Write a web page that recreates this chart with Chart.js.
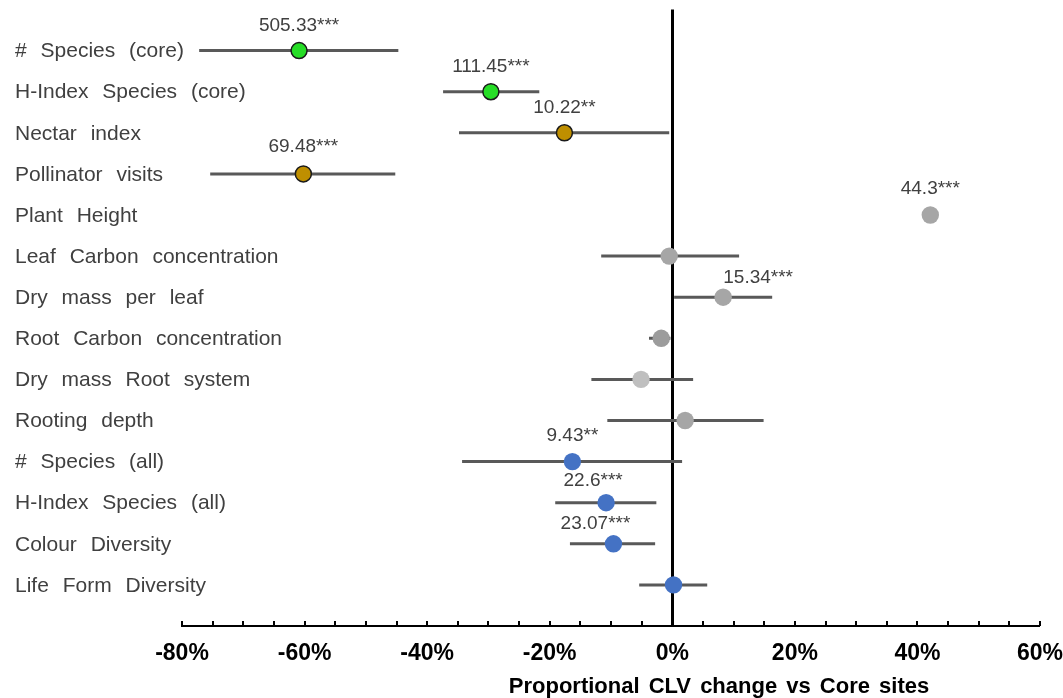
<!DOCTYPE html>
<html>
<head>
<meta charset="utf-8">
<script src="https://cdn.jsdelivr.net/npm/chart.js@4.4.1/dist/chart.umd.min.js"></script>
<style>
  html, body { margin: 0; padding: 0; background: #ffffff; }
  #wrap { width: 1063px; height: 698px; position: relative; }
</style>
</head>
<body>
<div id="wrap"><canvas id="chart" width="1063" height="698"></canvas></div>
<script>
// ---------------- DATA ----------------
const categories = [
  '# Species (core)',
  'H-Index Species (core)',
  'Nectar index',
  'Pollinator visits',
  'Plant Height',
  'Leaf Carbon concentration',
  'Dry mass per leaf',
  'Root Carbon concentration',
  'Dry mass Root system',
  'Rooting depth',
  '# Species (all)',
  'H-Index Species (all)',
  'Colour Diversity',
  'Life Form Diversity'
];
// proportional change (%) vs core sites
const estimates = [-60.9, -29.6, -17.6, -60.2, 42.1, -0.5, 8.3, -1.8, -5.1, 2.1, -16.3, -10.8, -9.6, 0.2];
const lower     = [-77.2, -37.4, -34.8, -75.4, null, -11.6, 0.3, -3.8, -13.2, -10.6, -34.3, -19.1, -16.7, -5.4];
const upper     = [-44.7, -21.7, -0.5, -45.2, null, 10.9, 16.3, -0.3, 3.4, 14.9, 1.6, -2.6, -2.8, 5.7];
const annotations = ['505.33***', '111.45***', '10.22**', '69.48***', '44.3***', '', '15.34***', '', '', '', '9.43**', '22.6***', '23.07***', ''];
const xTickValues = [-80, -60, -40, -20, 0, 20, 40, 60];
const axisTitle = 'Proportional CLV change vs Core sites';

// ---------------- STYLE ----------------
const GREEN = '#26dd26', GOLD = '#bf8f00', GREY = '#a6a6a6', LIGHTGREY = '#bfbfbf', DARKGREY = '#9c9c9c', BLUE = '#4472c4';
const pointFill = [GREEN, GREEN, GOLD, GOLD, GREY, GREY, GREY, DARKGREY, LIGHTGREY, GREY, BLUE, BLUE, BLUE, BLUE];
const pointEdge = pointFill.map(c => (c === GREEN || c === GOLD) ? '#1a1a1a' : c);
const pointEdgeWidth = pointFill.map(c => (c === GREEN || c === GOLD) ? 1.5 : 0);
const pointRad = pointFill.map(c => (c === GREEN || c === GOLD) ? 8 : 8.7);
// pixel nudges of the value labels (dx, dy relative to the point)
const labelNudge = [[0,-25],[0,-25],[0,-25],[0,-27],[0,-26],[0,0],[35,-19],[0,0],[0,0],[0,0],[0,-26],[-13,-22],[-18,-20],[0,0]];

// ---------------- DATASETS ----------------
const datasets = [];
datasets.push({
  label: 'estimates',
  data: estimates.map((v, i) => ({ x: v, y: i })),
  pointRadius: pointRad,
  pointHoverRadius: pointRad,
  pointBackgroundColor: pointFill,
  pointBorderColor: pointEdge,
  pointBorderWidth: pointEdgeWidth,
  showLine: false,
  order: 0
});
categories.forEach((c, i) => {
  if (lower[i] === null || upper[i] === null) return;
  datasets.push({
    label: 'ci ' + c,
    data: [{ x: lower[i], y: i }, { x: upper[i], y: i }],
    showLine: true,
    borderColor: '#595959',
    borderWidth: 3,
    borderCapStyle: 'butt',
    pointRadius: 0,
    pointHoverRadius: 0,
    order: 1
  });
});

// ---------------- PLUGINS ----------------
const FONT = "'Liberation Sans', Arial, sans-serif";
const decor = {
  id: 'decor',
  afterDatasetsDraw(chart) {
    const ctx = chart.ctx, xs = chart.scales.x, ys = chart.scales.y;
    ctx.save();
    // minor ticks every 5% pointing up from the axis line
    ctx.strokeStyle = '#000';
    ctx.lineWidth = 2;
    const yb = chart.chartArea.bottom;
    for (let v = xs.min; v <= xs.max + 1e-9; v += 5) {
      const px = Math.round(xs.getPixelForValue(v));
      ctx.beginPath();
      ctx.moveTo(px, yb);
      ctx.lineTo(px, yb - 5);
      ctx.stroke();
    }
    // category labels
    ctx.fillStyle = '#404040';
    ctx.font = '21px ' + FONT;
    ctx.textAlign = 'left';
    ctx.textBaseline = 'middle';
    try { ctx.wordSpacing = '8px'; } catch (e) {}
    categories.forEach((c, i) => {
      ctx.fillText(c, 15, ys.getPixelForValue(i) + 1);
    });
    try { ctx.wordSpacing = '0px'; } catch (e) {}
    // value labels
    ctx.font = '19px ' + FONT;
    ctx.textAlign = 'center';
    annotations.forEach((t, i) => {
      if (!t) return;
      const px = xs.getPixelForValue(estimates[i]) + labelNudge[i][0];
      const py = ys.getPixelForValue(i) + labelNudge[i][1];
      ctx.fillText(t, px, py);
    });
    // axis title
    ctx.fillStyle = '#000';
    ctx.font = 'bold 22px ' + FONT;
    try { ctx.wordSpacing = '3px'; } catch (e) {}
    ctx.fillText(axisTitle, 719, 687);
    ctx.restore();
  }
};

// ---------------- CHART ----------------
new Chart(document.getElementById('chart'), {
  type: 'scatter',
  data: { datasets },
  options: {
    responsive: false,
    animation: false,
    devicePixelRatio: 1,
    layout: { padding: { left: 182, right: 23, top: 6, bottom: 0 } },
    plugins: { legend: { display: false }, tooltip: { enabled: false }, title: { display: false } },
    scales: {
      x: {
        type: 'linear',
        min: -80,
        max: 60,
        afterBuildTicks: (s) => { s.ticks = xTickValues.map(v => ({ value: v })); },
        afterFit: (s) => { s.height = 72; s.paddingLeft = 0; s.paddingRight = 0; },
        ticks: {
          autoSkip: false,
          maxRotation: 0,
          padding: 14,
          color: '#000',
          font: { family: FONT, size: 23, weight: 'bold' },
          callback: (v) => v + '%'
        },
        grid: {
          drawTicks: false,
          color: (c) => (c.tick && c.tick.value === 0) ? '#000' : 'rgba(0,0,0,0)',
          lineWidth: (c) => (c.tick && c.tick.value === 0) ? 3 : 0
        },
        border: { display: true, color: '#000', width: 2 }
      },
      y: {
        type: 'linear',
        display: false,
        reverse: true,
        min: -1,
        max: 14
      }
    }
  },
  plugins: [decor]
});
</script>
</body>
</html>
